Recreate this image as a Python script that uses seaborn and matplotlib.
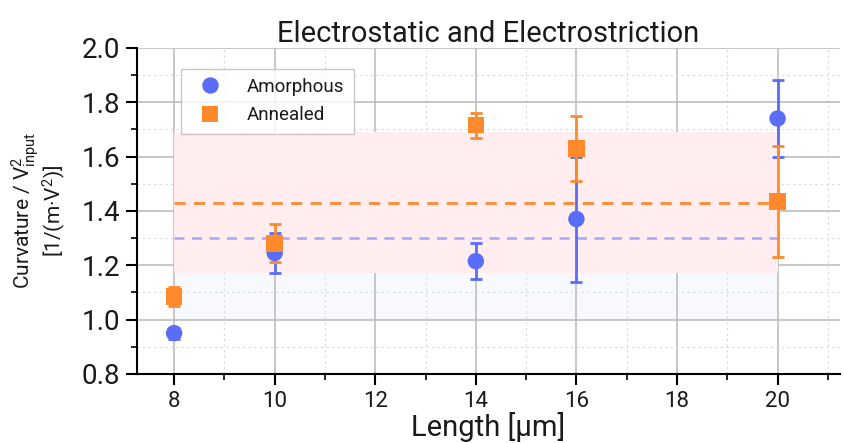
import numpy as np
import pandas as pd
import matplotlib
matplotlib.use("Agg")
import matplotlib.pyplot as plt
from matplotlib.ticker import MultipleLocator
import seaborn as sns

# Data
lengths = [8, 10, 14, 16, 20]
amorphous = [0.95, 1.245, 1.215, 1.37, 1.74]
amorphous_err = [0.02, 0.075, 0.067, 0.23, 0.14]
annealed = [1.085, 1.28, 1.715, 1.63, 1.435]
annealed_err = [0.035, 0.07, 0.045, 0.12, 0.205]
amorphous_mean, amorphous_std = 1.30, 0.30
annealed_mean, annealed_std = 1.43, 0.26
series_names = ["Amorphous", "Annealed"]

blue = "#5A6DF7"
orange = "#FF8A2B"
txt = "#1a1a1a"

sns.set_theme(style="white")
plt.rcParams['font.family'] = ['Roboto', 'DejaVu Sans']
plt.rcParams['mathtext.fontset'] = 'custom'
plt.rcParams['mathtext.rm'] = 'Roboto'
plt.rcParams['mathtext.it'] = 'Roboto'

fig = plt.figure(figsize=(8.45, 4.43), dpi=100)
ax = fig.add_axes([0.162, 0.156, 0.832, 0.736])

df = pd.DataFrame({
    "Length": lengths * 2,
    "Curvature": amorphous + annealed,
    "err": amorphous_err + annealed_err,
    "Sample": [series_names[0]] * len(lengths) + [series_names[1]] * len(lengths),
})

# bands
ax.fill_between([lengths[0], lengths[-1]], amorphous_mean - amorphous_std, amorphous_mean + amorphous_std,
                color="#F7F9FF", lw=0, zorder=0.5)
ax.fill_between([lengths[0], lengths[-1]], annealed_mean - annealed_std, annealed_mean + annealed_std,
                color="#FFEDF0", lw=0, zorder=0.6)
ax.plot([lengths[0], lengths[-1]], [annealed_mean] * 2, ls=(0, (4, 3)), color=orange, lw=2, zorder=1.5)
ax.plot([lengths[0], lengths[-1]], [amorphous_mean] * 2, ls=(0, (4, 3)), color="#A9A6F2", lw=1.8, zorder=1.5)

# error bars
for name, col in zip(series_names, [blue, orange]):
    sub = df[df.Sample == name]
    ax.errorbar(sub.Length, sub.Curvature, yerr=sub.err, fmt="none", ecolor=col,
                elinewidth=2, capsize=4, capthick=2, zorder=3)

sns.scatterplot(data=df, x="Length", y="Curvature", hue="Sample", style="Sample",
                markers={"Amorphous": "o", "Annealed": "s"},
                palette={"Amorphous": blue, "Annealed": orange},
                s=140, linewidth=0, ax=ax, zorder=4)

ax.set_xlim(7.26, 21.24)
ax.set_ylim(0.8, 2.0)
ax.xaxis.set_major_locator(MultipleLocator(2))
ax.xaxis.set_minor_locator(MultipleLocator(1))
ax.yaxis.set_minor_locator(MultipleLocator(0.1))
yt = np.arange(0.8, 2.01, 0.2)
ax.set_yticks(yt)
ax.set_yticklabels([f"{v:.1f}" for v in yt])

ax.grid(which="major", color="#BDBDBD", lw=1.2, ls="-")
ax.grid(which="minor", color="#D9D9D9", lw=0.8, ls=(0, (2, 3)))
ax.set_axisbelow(True)

for s in ["top", "right"]:
    ax.spines[s].set_visible(False)
for s in ["left", "bottom"]:
    ax.spines[s].set_color("black")
    ax.spines[s].set_linewidth(1.5)

ax.tick_params(axis="both", which="major", direction="out", length=8, width=1.5, color="black",
               bottom=True, left=True)
ax.tick_params(axis="both", which="minor", direction="out", length=4, width=1.2, color="black",
               bottom=True, left=True)
ax.tick_params(axis="y", which="major", labelsize=20, pad=4, labelcolor=txt)
ax.tick_params(axis="x", which="major", labelsize=16, pad=4, labelcolor=txt)

ax.set_xlabel("Length [μm]", fontsize=21, labelpad=0, color=txt)
ax.set_ylabel("Curvature / V$^2_{\\mathrm{input}}$\n[1/(m·V$^2$)]", fontsize=15, labelpad=10,
              color=txt, linespacing=0.95)
ax.set_title("Electrostatic and Electrostriction", fontsize=21, color=txt, pad=4)

leg = ax.legend(loc="upper left", bbox_to_anchor=(0.05, 0.965), frameon=True, fancybox=False,
                fontsize=13.5, markerscale=1.0, handletextpad=1.0, borderpad=0.5, labelspacing=0.55,
                title=None)
leg.get_frame().set_edgecolor("#BBBBBB")
leg.get_frame().set_linewidth(1)
for t in leg.get_texts():
    t.set_color(txt)

fig.savefig("out.png", dpi=100)
